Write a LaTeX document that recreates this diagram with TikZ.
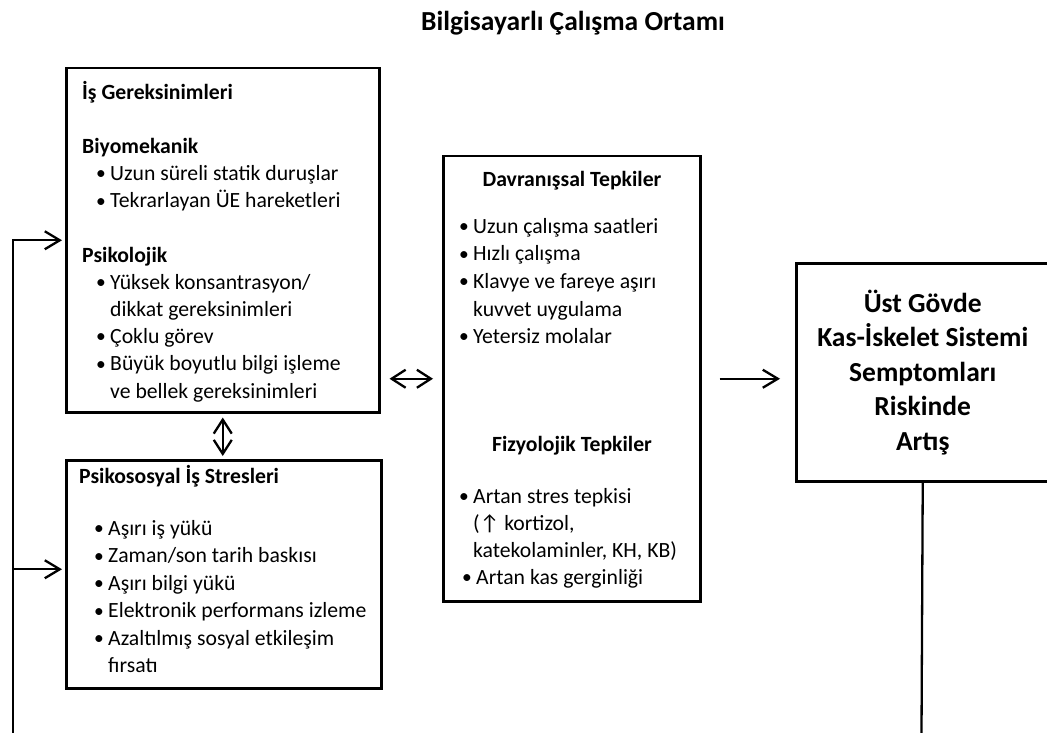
\documentclass[tikz,border=0pt]{standalone}
\usepackage{fontspec}
\setmainfont{Carlito}
\usetikzlibrary{arrows.meta, positioning}
\tikzset{
  panel/.style={
    rectangle, draw=black, fill=white,
    line width=2.5pt, inner sep=0pt,
  },
  body/.style={
    anchor=north west, align=left, inner sep=0pt,
    font=\fontsize{21.7}{27.2}\selectfont,
  },
  head/.style={
    anchor=base, inner sep=0pt,
    font=\fontsize{21.7}{26}\selectfont\bfseries,
  },
  arr/.style={
    -{Straight Barb[length=15pt,width=18pt]},
    line width=2.3pt,
  },
  darr/.style={
    {Straight Barb[length=14pt,width=18pt]}-{Straight Barb[length=14pt,width=18pt]},
    line width=2.3pt,
  },
  link/.style={line width=2.3pt},
}
\newcommand{\bul}{\makebox[14pt][l]{\raisebox{0.7pt}{\fontsize{19.5}{19.5}\selectfont\textbullet}}}
\newcommand{\ind}{\hspace*{14pt}}

\begin{document}
\begin{tikzpicture}[x=1pt,y=-1pt]
  \useasboundingbox (0,0) rectangle (1047,733);

  \node[head, font=\fontsize{27.5}{32}\selectfont\bfseries] (title) at (573,31)
        {Bilgisayarlı Çalışma Ortamı};

  % left column
  \node[panel, anchor=north west, minimum width=313, minimum height=344]
        (req) at (65,67) {};
  \node[body] (reqtxt) at (82,79.96) {%
    \strut\textbf{İş Gereksinimleri}\\[27pt]
    \textbf{Biyomekanik}\\
    \hspace*{14pt}\bul Uzun süreli statik duruşlar\\
    \hspace*{14pt}\bul Tekrarlayan ÜE hareketleri\\[27pt]
    \textbf{Psikolojik}\\
    \hspace*{14pt}\bul Yüksek konsantrasyon/\\
    \hspace*{14pt}\ind dikkat gereksinimleri\\
    \hspace*{14pt}\bul Çoklu görev\\
    \hspace*{14pt}\bul Büyük boyutlu bilgi işleme\\
    \hspace*{14pt}\ind ve bellek gereksinimleri};

  \node[panel, anchor=north west, minimum width=315, minimum height=228]
        (psy) at (65,459) {};
  \node[body, font=\fontsize{21.7}{27.4}\selectfont] (psytxt) at (79,463.8) {%
    \strut\textbf{Psikososyal İş Stresleri}\\[25pt]
    \hspace*{15pt}\bul Aşırı iş yükü\\
    \hspace*{15pt}\bul Zaman/son tarih baskısı\\
    \hspace*{15pt}\bul Aşırı bilgi yükü\\
    \hspace*{15pt}\bul Elektronik performans izleme\\
    \hspace*{15pt}\bul Azaltılmış sosyal etkileşim\\
    \hspace*{15pt}\ind fırsatı};

  % middle column
  \node[panel, anchor=north west, minimum width=257, minimum height=445]
        (dav) at (442,155) {};
  \node[head] (davhd) at (572,186) {Davranışsal Tepkiler};
  \node[body, font=\fontsize{21.7}{27.6}\selectfont] (davtxt) at (459,213.7) {%
    \strut\bul Uzun çalışma saatleri\\
    \bul Hızlı çalışma\\
    \bul Klavye ve fareye aşırı\\
    \ind kuvvet uygulama\\
    \bul Yetersiz molalar};
  \node[head] (fizhd) at (572,451) {Fizyolojik Tepkiler};
  \node[body, font=\fontsize{21.7}{27}\selectfont] (fiztxt) at (459,484.1) {%
    \strut\bul Artan stres tepkisi\\
    \ind (↑ kortizol,\\
    \ind katekolaminler, KH, KB)\\
    \hspace*{3pt}\bul Artan kas gerginliği};

  % outcome
  \node[panel, anchor=north west, minimum width=253, minimum height=218,
        align=center, font=\fontsize{27.5}{34.5}\selectfont\bfseries]
        (risk) at (795,262)
        {Üst Gövde\\Kas-İskelet Sistemi\\Semptomları\\Riskinde\\Artış};

  % connectors
  \coordinate (fbL) at (13,733);
  \coordinate (fbR) at (921.5,733);
  \draw[link] (risk.south) -- (fbR);
  \draw[arr, shorten >=3pt] (fbL) |- (req.west);
  \draw[arr, shorten >=3pt] (fbL |- psy.west) ++(0,-5) -- ([yshift=5pt]psy.west);
  \draw[darr, shorten <=9pt, shorten >=9pt] (req.east |- dav.west) -- (dav.west);
  \draw[darr, shorten <=4pt, shorten >=3pt] (req.south) -- (req.south |- psy.north);
  \draw[arr, shorten <=18pt, shorten >=15pt] (dav.east) -- (dav.east -| risk.west);

\end{tikzpicture}
\end{document}
